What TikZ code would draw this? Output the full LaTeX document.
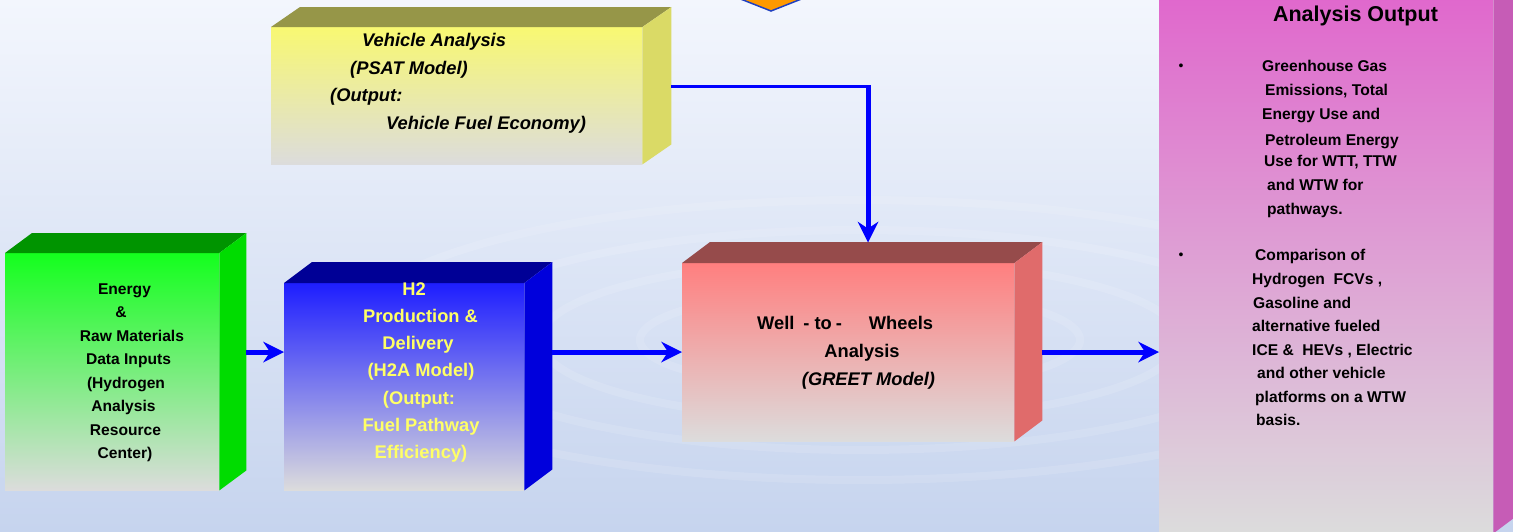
\documentclass[tikz,border=0pt]{standalone}
\usepackage{fontspec}
\setmainfont{Liberation Sans}
\usetikzlibrary{arrows.meta}
\definecolor{bgtop}{RGB}{243,246,253}
\definecolor{bgbot}{RGB}{198,212,238}
\definecolor{facegray}{RGB}{220,220,220}
\definecolor{gfront}{RGB}{20,255,30}
\definecolor{gtop}{RGB}{0,148,0}
\definecolor{gside}{RGB}{0,220,0}
\definecolor{bfront}{RGB}{30,30,255}
\definecolor{btop}{RGB}{0,0,150}
\definecolor{bside}{RGB}{0,0,220}
\definecolor{rfront}{RGB}{255,127,127}
\definecolor{rtop}{RGB}{150,75,75}
\definecolor{rside}{RGB}{224,107,107}
\definecolor{yfront}{RGB}{248,248,114}
\definecolor{ytop}{RGB}{150,150,72}
\definecolor{yside}{RGB}{218,218,102}
\definecolor{pfront}{RGB}{224,100,204}
\definecolor{pside}{RGB}{198,92,182}
\definecolor{arrowblue}{RGB}{0,0,255}
\definecolor{htext}{RGB}{255,255,102}
\definecolor{dorange}{RGB}{255,153,0}
\definecolor{dedge}{RGB}{32,64,192}
\newcommand\drawcube[9]{%
  \node[anchor=north west, minimum width=#4pt, minimum height=#5pt, inner sep=0pt,
        top color=#6, bottom color=facegray] (#1) at (#2,#3) {};
  \fill[#7] (#1.north west) -- ++(#9) -- ([shift={(#9)}]#1.north east) -- (#1.north east) -- cycle;
  \fill[#8] (#1.north east) -- ++(#9) -- ([shift={(#9)}]#1.south east) -- (#1.south east) -- cycle;
}
\tikzset{bighead/.tip={Stealth[length=21pt,width=21pt,inset=7pt,line width=0pt,round]}}
\begin{document}
\begin{tikzpicture}[x=1pt,y=-1pt,
  conn/.style={draw=arrowblue, line width=5pt, -bighead},
  gtxt/.style={inner sep=0pt, anchor=base, font=\bfseries\fontsize{15.6}{18}\selectfont},
  htxt/.style={inner sep=0pt, anchor=base, text=htext, font=\bfseries\fontsize{18.3}{22}\selectfont},
  rtxt/.style={inner sep=0pt, anchor=base, font=\bfseries\fontsize{18.3}{22}\selectfont},
  ytxt/.style={inner sep=0pt, anchor=base west, font=\bfseries\itshape\fontsize{18.3}{22}\selectfont},
  ptxt/.style={inner sep=0pt, anchor=base west, font=\bfseries\fontsize{15.6}{18}\selectfont},
  bul/.style={inner sep=0pt, anchor=base, font=\fontsize{14}{15}\selectfont}]
\useasboundingbox (0,0) rectangle (1513,531);
\clip (0,0) rectangle (1513,531);
% background
\shade[top color=bgtop, bottom color=bgbot] (0,0) rectangle (1513,531);
\foreach \rx/\ry in {220/50, 320/80, 420/110, 520/140}
  \draw[white, opacity=0.12, line width=8pt] (860,340) ellipse [x radius=\rx, y radius=\ry];
% orange diamond (partly outside)
\filldraw[fill=dorange, draw=dedge, line width=1.5pt] (771,11) -- (695,-19) -- (771,-49) -- (847,-19) -- cycle;
% boxes
\drawcube{y}{271}{27}{371}{137}{yfront}{ytop}{yside}{29,-20}
\drawcube{g}{5}{253}{214}{237}{gfront}{gtop}{gside}{27,-20}
\drawcube{b}{284}{283}{240}{207}{bfront}{btop}{bside}{28,-21}
\drawcube{r}{682}{263}{332}{178}{rfront}{rtop}{rside}{28,-21}
\drawcube{p}{1159}{-20}{334}{553}{pfront}{pside}{pside}{28,-21}
% green text
\foreach \i/\x/\y/\t in {1/124.5/294/Energy, 2/121/317.5/\&, 3/132/341/Raw Materials,
  4/128.5/364.5/Data Inputs, 5/126/388/(Hydrogen, 6/123.5/411.5/Analysis,
  7/125.5/435/Resource, 8/125/458.5/Center)}
  \node[gtxt, name=gt\i] at (\x,\y) {\t};
% blue text
\foreach \i/\x/\y/\t in {1/414/295/H2, 2/420.5/322.3/Production \&, 3/418/349.6/Delivery,
  4/421/376.9/(H2A Model), 5/419/404.2/(Output:, 6/421/431.5/Fuel Pathway,
  7/421/458.8/Efficiency)}
  \node[htxt, name=bt\i] at (\x,\y) {\t};
% red text
\node[rtxt, anchor=base west] (rt1) at (757,329) {Well\hspace{9pt}-\hspace{5pt}to\hspace{4pt}-\hspace{27pt}Wheels};
\node[rtxt] (rt2) at (862,357) {Analysis};
\node[rtxt, font=\bfseries\itshape\fontsize{18.3}{22}\selectfont] (rt3) at (868.5,385) {(GREET Model)};
% yellow text
\foreach \i/\x/\y/\t in {1/362/46.7/Vehicle Analysis, 2/350/74/(PSAT Model),
  3/330/101.7/(Output:, 4/386/129/Vehicle Fuel Economy)}
  \node[ytxt, name=yt\i] at (\x,\y) {\t};
% pink text
\node[inner sep=0pt, anchor=base, font=\bfseries\fontsize{21.5}{24}\selectfont] (ptitle) at (1355.5,21.7) {Analysis Output};
\node[bul] (pb1) at (1181,70.5) {•};
\node[bul] (pb2) at (1181,259) {•};
\foreach \i/\x/\y/\t in {1/1262/71.5/Greenhouse Gas, 2/1265/95.5/{Emissions, Total},
  3/1262/119.5/Energy Use and, 4/1265/145.5/Petroleum Energy,
  5/1264/166.5/{Use for WTT, TTW}, 6/1267/190.5/and WTW for, 7/1267/214.5/pathways.,
  8/1255/260.5/Comparison of, 9/1252/284.3/{Hydrogen\ \ FCVs ,},
  10/1253/308/Gasoline and, 11/1252/331.7/alternative fueled,
  12/1252/355.5/{ICE \&\ \ HEVs\ , Electric}, 13/1257/378.5/and other vehicle,
  14/1255/402.3/platforms on a WTW, 15/1256/425.5/basis.}
  \node[ptxt, name=pt\i] at (\x,\y) {\t};
% connectors
\coordinate (gout) at (246,352);
\coordinate (bout) at (552,352);
\coordinate (rout) at (1042,352);
\coordinate (yout) at (671,86.5);
\coordinate (bend) at (868,86.5);
\coordinate (rin) at (868,242.5);
\draw[conn] (gout) -- (b.west |- gout);
\draw[conn] (bout) -- (r.west |- bout);
\draw[conn] (rout) -- (p.west |- rout);
\draw[arrowblue, line width=3.3pt] (yout) -- ([xshift=2.5pt]bend);
\draw[conn] ([yshift=1.65pt]bend) -- (rin);
\end{tikzpicture}
\end{document}
